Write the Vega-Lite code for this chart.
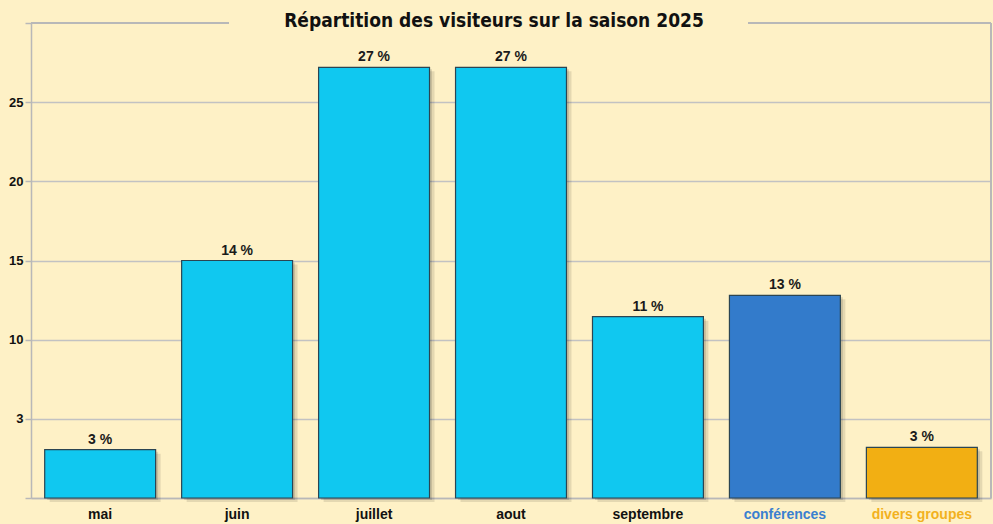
{
  "$schema": "https://vega.github.io/schema/vega-lite/v6.json",
  "width": 960,
  "height": 475,
  "autosize": {"type": "none"},
  "padding": {"left": 31, "top": 23, "right": 2, "bottom": 26},
  "background": "#FEF1C6",
  "config": {"view": {"stroke": null}},
  "title": {
    "text": "Répartition des visiteurs sur la saison 2025",
    "font": "DejaVu Sans Condensed",
    "fontSize": 19,
    "fontWeight": "bold",
    "color": "#111111",
    "anchor": "middle",
    "baseline": "alphabetic",
    "offset": -6,
    "dy": 18,
    "dx": -17
  },
  "data": {
    "values": [
      {"cat": "mai", "val": 3.05, "label": "3 %", "grp": "mois"},
      {"cat": "juin", "val": 15.0, "label": "14 %", "grp": "mois"},
      {"cat": "juillet", "val": 27.2, "label": "27 %", "grp": "mois"},
      {"cat": "aout", "val": 27.2, "label": "27 %", "grp": "mois"},
      {"cat": "septembre", "val": 11.45, "label": "11 %", "grp": "mois"},
      {"cat": "conférences", "val": 12.8, "label": "13 %", "grp": "conf"},
      {"cat": "divers groupes", "val": 3.2, "label": "3 %", "grp": "div"}
    ]
  },
  "resolve": {"scale": {"x": "independent"}, "axis": {"x": "independent"}},
  "layer": [
    {
      "encoding": {
        "x": {
          "field": "cat",
          "type": "nominal",
          "sort": null,
          "scale": {"paddingInner": 0.19, "paddingOuter": 0.1},
          "axis": {
            "title": null,
            "ticks": false,
            "labelAngle": 0,
            "labelFont": "Liberation Sans",
            "labelFontSize": 14,
            "labelFontWeight": "bold",
            "labelColor": {
              "condition": [
                {"test": "datum.value == 'conférences'", "value": "#3A80D0"},
                {"test": "datum.value == 'divers groupes'", "value": "#F2B11E"}
              ],
              "value": "#111111"
            },
            "labelPadding": 9,
            "labelBaseline": "top",
            "domainColor": "#B8B8B8",
            "domainWidth": 1.5
          }
        },
        "y": {
          "field": "val",
          "type": "quantitative",
          "scale": {"domain": [0, 30], "nice": false},
          "axis": {
            "title": null,
            "values": [0, 5, 10, 15, 20, 25, 30],
            "labelExpr": "datum.value == 5 ? '3' : (datum.value == 0 || datum.value == 30) ? '' : datum.label",
            "labelFont": "Liberation Sans",
            "labelFontSize": 13,
            "labelFontWeight": "bold",
            "labelColor": "#111111",
            "labelPadding": 2,
            "tickSize": 6,
            "tickColor": "#B8B8B8",
            "tickWidth": 1.5,
            "domainColor": "#B8B8B8",
            "domainWidth": 1.5,
            "gridColor": "#C2C2C2",
            "gridWidth": 1.5,
            "gridOpacity": {"condition": {"test": "datum.value == 30", "value": 0}, "value": 1}
          }
        }
      },
      "layer": [
        {
          "mark": {"type": "bar", "color": "#000000", "opacity": 0.1, "xOffset": 5, "yOffset": 4},
          "encoding": {}
        },
        {
          "mark": {"type": "bar", "color": "#000000", "opacity": 0.12, "xOffset": 2.5, "yOffset": 2},
          "encoding": {}
        },
        {
          "mark": {"type": "bar", "stroke": "#2B4552", "strokeWidth": 1.2},
          "encoding": {
            "color": {
              "field": "grp",
              "type": "nominal",
              "scale": {"domain": ["mois", "conf", "div"], "range": ["#10C8F0", "#337BCB", "#F2AF13"]},
              "legend": null
            }
          }
        },
        {
          "mark": {
            "type": "text",
            "baseline": "alphabetic",
            "dy": -6,
            "font": "Liberation Sans",
            "fontSize": 14,
            "fontWeight": "bold",
            "color": "#1A1A1A"
          },
          "encoding": {"text": {"field": "label"}}
        }
      ]
    },
    {
      "mark": {"type": "rule", "color": "#B8B8B8", "strokeWidth": 1.5},
      "encoding": {
        "x": {"datum": 0, "type": "quantitative", "scale": {"domain": [0, 1]}, "axis": null},
        "x2": {"datum": 0.206},
        "y": {"datum": 30, "type": "quantitative"}
      }
    },
    {
      "mark": {"type": "rule", "color": "#B8B8B8", "strokeWidth": 1.5},
      "encoding": {
        "x": {"datum": 0.747, "type": "quantitative", "scale": {"domain": [0, 1]}, "axis": null},
        "x2": {"datum": 1},
        "y": {"datum": 30, "type": "quantitative"}
      }
    },
    {
      "mark": {"type": "rule", "color": "#B8B8B8", "strokeWidth": 1.5},
      "encoding": {
        "x": {"datum": 1, "type": "quantitative", "scale": {"domain": [0, 1]}, "axis": null},
        "y": {"datum": 0, "type": "quantitative"},
        "y2": {"datum": 30}
      }
    }
  ]
}
